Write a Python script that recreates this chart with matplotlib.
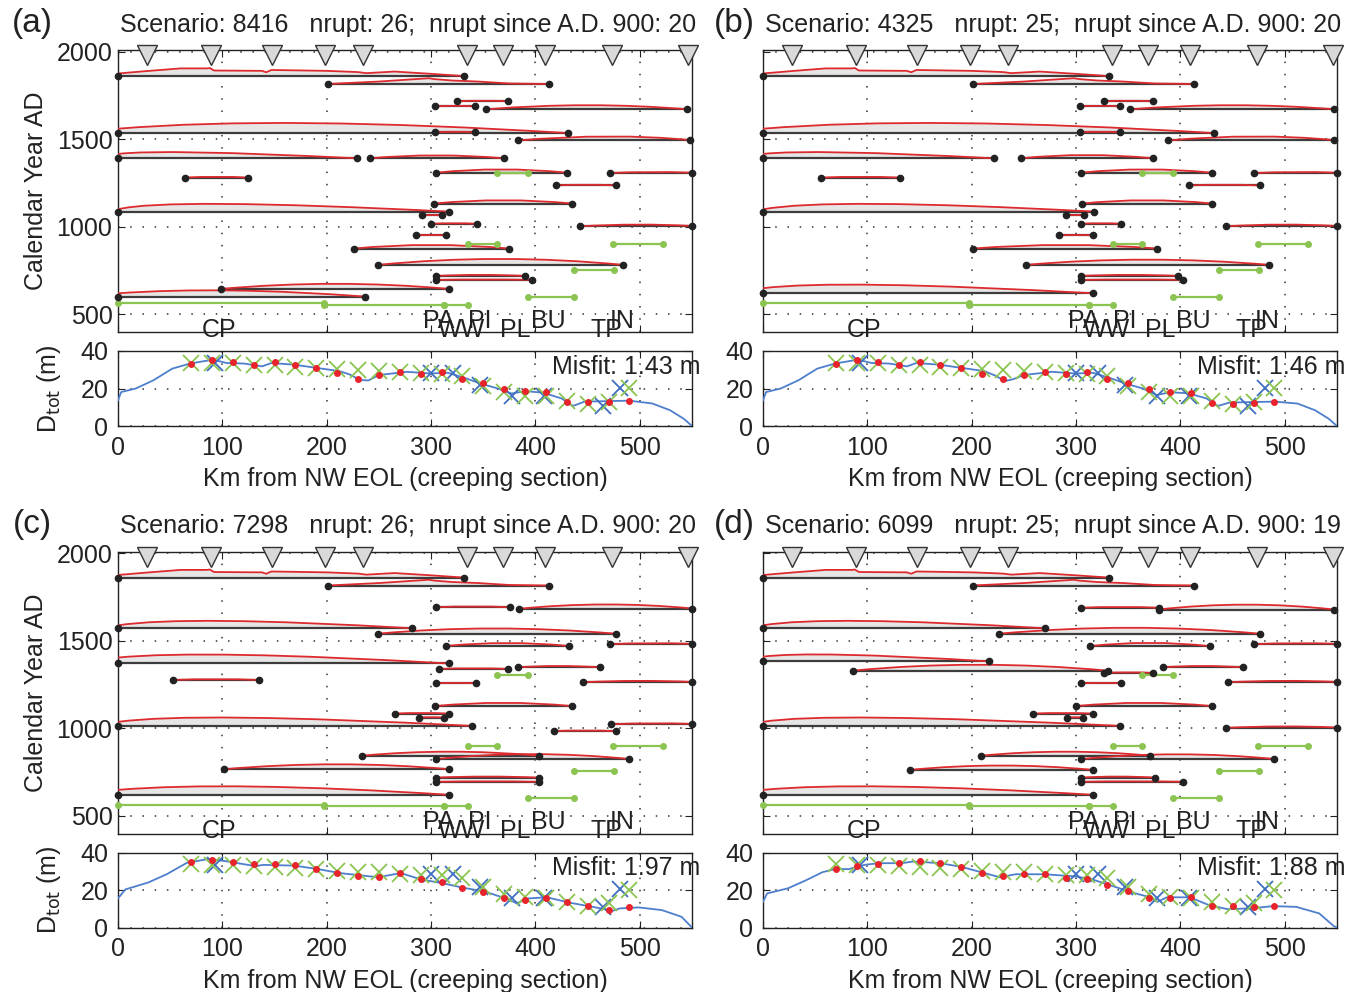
import matplotlib
matplotlib.use('Agg')
import matplotlib.pyplot as plt
from matplotlib.path import Path
from matplotlib.patches import PathPatch

plt.rcParams['font.family'] = ['Liberation Sans', 'DejaVu Sans']
plt.rcParams['font.size'] = 18
plt.rcParams['text.color'] = '#222222'
plt.rcParams['axes.labelcolor'] = '#222222'
plt.rcParams['xtick.color'] = '#222222'
plt.rcParams['ytick.color'] = '#222222'

# ---------------- data ----------------
titles = ['Scenario: 8416   nrupt: 26;  nrupt since A.D. 900: 20',
          'Scenario: 4325   nrupt: 25;  nrupt since A.D. 900: 20',
          'Scenario: 7298   nrupt: 26;  nrupt since A.D. 900: 20',
          'Scenario: 6099   nrupt: 25;  nrupt since A.D. 900: 19']
misfits = [1.43, 1.46, 1.97, 1.88]

# paleoseismic sites (triangles) and site labels
tri_km = [28, 89, 148, 198, 235, 334, 369, 409, 473, 546]
site_names = ['CP', 'PA', 'WW', 'PI', 'PL', 'BU', 'TP', 'IN']
site_km = [97, 307, 329, 347, 381, 412, 468, 483]
site_row = [0, 1, 0, 1, 0, 1, 0, 1]

# historic ruptures shared by all scenarios: (km, red offset in years)
hist1_year = 1860
hist1_km = [0, 30, 60, 85, 88, 92, 138, 142, 147, 200, 230, 238, 265, 300, 332]
hist1_off = [15, 30, 44, 44, 46, 32, 30, 22, 35, 30, 23, 17, 26, 13, 0]
hist2_year = 1815
hist2_km = [201, 250, 298, 303, 320, 345, 375, 413]
hist2_off = [0, 14, 33, 28, 20, 14, 3, 0]

# green constraint segments (year, km start, km end)
green_year = [1307, 900, 900, 754, 602, 563, 556, 556]
green_x1 = [363, 335, 474, 437, 393, 0, 197, 312]
green_x2 = [393, 363, 522, 475, 437, 197, 312, 335]

# ruptures: (year, km start, km end, red offset left, km of peak, peak offset, red offset right)
rup_a = [(1716, 325, 374, 0, 350, 4, 0), (1687, 304, 342, 0, 323, 4, 0),
         (1671, 353, 545, 0, 450, 23, 0), (1535, 0, 431, 25, 186, 57, 0),
         (1539, 304, 342, 0, 323, 4, 0), (1493, 383, 548, 0, 470, 23, 2),
         (1391, 0, 229, 25, 79, 34, 0), (1391, 241, 370, 0, 305, 17, 0),
         (1281, 64, 125, 0, 95, 5, 0), (1309, 305, 430, 0, 367, 19, 0),
         (1307, 471, 550, 0, 510, 6, 2), (1236, 420, 477, 0, 448, 5, 0),
         (1133, 303, 435, 0, 369, 19, 0), (1087, 0, 317, 13, 102, 44, 0),
         (1065, 291, 310, 0, 300, 3, 0), (1017, 300, 344, 0, 322, 4, 0),
         (1003, 443, 550, 0, 497, 10, 2), (951, 286, 314, 0, 300, 3, 0),
         (876, 226, 375, 0, 300, 21, 0), (783, 249, 484, 0, 366, 34, 0),
         (720, 305, 390, 0, 347, 6, 0), (697, 305, 397, 0, 351, 3, 0),
         (646, 99, 317, 0, 208, 29, 0), (602, 0, 237, 19, 110, 35, 0)]
rup_b = [(1716, 327, 374, 0, 350, 4, 0), (1687, 304, 342, 0, 323, 4, 0),
         (1671, 352, 547, 0, 450, 23, 0), (1535, 0, 432, 25, 186, 57, 0),
         (1539, 304, 342, 0, 323, 4, 0), (1493, 388, 547, 0, 470, 23, 2),
         (1391, 0, 221, 25, 79, 34, 0), (1391, 247, 374, 0, 310, 19, 0),
         (1281, 56, 131, 0, 93, 5, 0), (1309, 305, 430, 0, 367, 19, 0),
         (1307, 470, 550, 0, 510, 6, 2), (1236, 408, 476, 0, 442, 5, 0),
         (1133, 306, 430, 0, 368, 19, 0), (1087, 0, 317, 13, 110, 44, 0),
         (1065, 290, 308, 0, 299, 3, 0), (1017, 305, 343, 0, 324, 4, 0),
         (1003, 444, 550, 0, 497, 10, 2), (951, 284, 316, 0, 300, 3, 0),
         (876, 201, 378, 0, 290, 21, 0), (783, 252, 485, 0, 368, 30, 0),
         (720, 305, 398, 0, 351, 6, 0), (697, 305, 402, 0, 353, 3, 0),
         (621, 0, 316, 29, 115, 48, 0)]
rup_c = [(1691, 305, 376, 0, 340, 5, 0), (1682, 384, 550, 0, 467, 25, 2),
         (1571, 0, 282, 17, 103, 42, 0), (1540, 249, 477, 0, 360, 30, 0),
         (1470, 314, 432, 0, 373, 17, 0), (1480, 471, 550, 0, 510, 6, 2),
         (1370, 0, 317, 34, 121, 49, 0), (1339, 308, 374, 0, 341, 4, 0),
         (1348, 383, 462, 0, 422, 8, 0), (1276, 53, 135, 0, 94, 5, 0),
         (1257, 305, 343, 0, 324, 3, 0), (1263, 446, 550, 0, 498, 8, 2),
         (1127, 304, 435, 0, 369, 19, 0), (1084, 265, 317, 0, 291, 4, 0),
         (1061, 288, 312, 0, 300, 3, 0), (1014, 0, 339, 23, 121, 47, 0),
         (984, 418, 477, 0, 447, 4, 0), (1023, 472, 550, 0, 511, 6, 2),
         (844, 234, 403, 0, 318, 23, 0), (825, 305, 490, 0, 397, 28, 0),
         (767, 102, 317, 0, 210, 28, 0), (719, 305, 403, 0, 354, 6, 0),
         (695, 305, 403, 0, 354, 3, 0), (621, 0, 317, 28, 132, 47, 0)]
rup_d = [(1688, 305, 379, 0, 342, 5, 0), (1678, 379, 547, 0, 463, 28, 0),
         (1571, 0, 270, 17, 97, 42, 0), (1540, 226, 476, 0, 352, 34, 0),
         (1469, 313, 428, 0, 370, 19, 0), (1480, 470, 550, 0, 510, 6, 2),
         (1382, 0, 217, 27, 78, 38, 0), (1329, 86, 331, 0, 206, 34, 0),
         (1316, 327, 374, 0, 350, 4, 0), (1348, 383, 460, 0, 421, 8, 0),
         (1257, 305, 343, 0, 324, 3, 0), (1263, 446, 550, 0, 498, 8, 2),
         (1127, 300, 430, 0, 365, 19, 0), (1084, 259, 316, 0, 288, 4, 0),
         (1061, 291, 307, 0, 299, 3, 0), (1014, 0, 342, 23, 115, 47, 0),
         (1003, 444, 550, 0, 497, 8, 2), (844, 209, 371, 0, 290, 23, 0),
         (825, 305, 490, 0, 397, 27, 0), (763, 141, 316, 0, 228, 25, 0),
         (719, 305, 376, 0, 340, 6, 0), (695, 305, 402, 0, 353, 3, 0),
         (621, 0, 316, 28, 125, 47, 0)]

# observed total slip (green x) and second set (blue x)
obs_km = [70, 90, 110, 130, 150, 170, 190, 210, 230, 250, 270,
          290, 310, 330, 350, 370, 390, 410, 430, 450, 470, 490]
obs_d = [33.8, 33.6, 33.6, 32.7, 32.5, 31.7, 31.0, 30.3, 29.7, 29.5, 28.8,
         28.2, 28.0, 26.5, 21.6, 17.9, 16.2, 15.9, 13.5, 11.7, 13.0, 20.2]
obs2_km = [93, 300, 321, 347, 378, 408, 465, 481]
obs2_d = [33.6, 28.3, 28.5, 21.8, 16.0, 16.0, 10.8, 20.4]

# modelled D_tot along strike (blue line) per scenario
dtot_km_a = [0, 3, 17, 34, 52, 69, 91, 104, 121, 138, 147, 169, 190, 212, 222, 232,
             240, 250, 277, 299, 316, 334, 347, 364, 377, 390, 407, 425, 436, 447,
             472, 490, 512, 529, 542, 550]
dtot_a = [13.7, 18.1, 20, 24.4, 30.6, 33.3, 35.4, 33.6, 33.3, 31.8, 33.6, 32.7, 31, 29.3,
          27.5, 24.5, 24.3, 27.2, 28.9, 28, 28.4, 25.3, 22.7, 20, 17.3, 18.6, 17.8, 14.7,
          10.7, 13, 13.3, 13.5, 12, 8.4, 3.9, 0]
dtot_km_b = [0, 3, 17, 34, 52, 69, 91, 104, 121, 138, 147, 169, 190, 212, 222, 232,
             240, 250, 277, 299, 316, 334, 347, 364, 377, 390, 407, 425, 436, 447,
             472, 490, 512, 529, 542, 550]
dtot_b = [13.7, 18.1, 20, 24.4, 30.6, 33.3, 35.4, 33.6, 33.3, 31.8, 33.6, 32.7, 31, 29.3,
          27.0, 24.0, 25.0, 27.2, 28.9, 28, 28.4, 25.3, 22.7, 20, 16.5, 18.0, 17.5, 14.7,
          10.7, 12.5, 12.8, 13.0, 12, 8.4, 3.9, 0]
dtot_km_c = [0, 7, 29, 47, 66, 86, 103, 132, 139, 169, 191, 213, 249, 271, 290, 311,
             330, 352, 374, 382, 393, 411, 433, 455, 474, 481, 499, 521, 540, 550]
dtot_c = [15.5, 20.3, 24, 28.5, 34.5, 36.5, 35.4, 32.7, 33.4, 33, 31.2, 29, 26.8, 29,
          25.7, 23.6, 21.3, 19.1, 15, 12.9, 15.5, 16.1, 13.2, 11, 8.9, 10.2, 10.7, 9.3, 5.7, 0]
dtot_km_d = [0, 4, 24, 42, 57, 70, 82, 97, 111, 133, 144, 170, 191, 213, 227, 242,
             270, 300, 315, 332, 351, 369, 378, 387, 409, 427, 445, 467, 489, 511,
             533, 547, 550]
dtot_d = [13.7, 18.2, 20.9, 25.4, 29.5, 31.3, 31.1, 33.4, 34.3, 34.3, 35.2, 34.3, 32.2,
          28.9, 26.8, 28.4, 28.4, 27.2, 25.7, 22.7, 19.1, 16.4, 13.7, 16.1, 16.1, 12,
          9.8, 10.2, 11.4, 11, 7.5, 0.7, 0]

# modelled D_tot at the sites (red dots)
model_a = [33.3, 35.4, 33.9, 32.4, 33.9, 32.7, 31.0, 28.5, 25.3, 27.4, 28.7,
           27.9, 28.7, 24.9, 23.2, 20.0, 18.6, 17.9, 12.9, 12.6, 12.9, 13.5]
model_b = [33.3, 35.0, 33.9, 32.4, 33.9, 32.7, 31.0, 28.0, 25.0, 27.4, 28.7,
           27.9, 28.7, 24.9, 23.0, 19.5, 18.0, 17.5, 12.5, 12.0, 12.5, 13.0]
model_c = [35.0, 36.2, 35.0, 33.7, 33.9, 33.2, 31.0, 28.9, 27.6, 27.1, 28.9,
           25.7, 24.1, 21.3, 19.1, 15.5, 14.6, 16.0, 13.4, 11.6, 9.6, 10.7]
model_d = [31.2, 32.6, 33.9, 34.4, 35.7, 34.4, 32.2, 28.9, 27.5, 28.6, 28.4,
           26.6, 25.9, 22.7, 19.5, 15.5, 15.5, 16.1, 11.6, 11.4, 11.1, 11.6]

# ---------------- style ----------------
RED = '#dd2a2f'
DARK = '#3c3c3c'
FILL = '#e6e6e6'
GREEN = '#8cc451'
BLUE = '#4d7fcc'
BLUEX = '#3f6fc0'
GRID = dict(color='#333333', linestyle=(0, (1, 7)), linewidth=1.1)

W, H = 1345, 992


def rect(left, top, right, bottom):
    return [left / W, 1 - bottom / H, (right - left) / W, (bottom - top) / H]


def draw_rupture(ax, year, x1, x2, hl, xp, hp, hr):
    p0 = (x1, year + hl)
    p2 = (x2, year + hr)
    ctrl = (2 * xp - 0.5 * (x1 + x2), 2 * (year + hp) - 0.5 * (p0[1] + p2[1]))
    fill_path = Path([p0, ctrl, p2, (x2, year), (x1, year), p0],
                     [Path.MOVETO, Path.CURVE3, Path.CURVE3,
                      Path.LINETO, Path.LINETO, Path.CLOSEPOLY])
    ax.add_patch(PathPatch(fill_path, fc=FILL, ec='none', zorder=2))
    ax.plot([x1, x2], [year, year], color=DARK, lw=1.6, zorder=3)
    curve = Path([p0, ctrl, p2], [Path.MOVETO, Path.CURVE3, Path.CURVE3])
    ax.add_patch(PathPatch(curve, fc='none', ec=RED, lw=1.3, zorder=4))
    ax.plot([x1, x2], [year, year], 'o', ms=4.5, color='#222222',
            zorder=6, clip_on=False)


def draw_hist(ax, year, km, off):
    top = [year + o for o in off]
    ax.fill_between(km, year, top, color=FILL, lw=0, zorder=2)
    ax.plot([km[0], km[-1]], [year, year], color=DARK, lw=1.6, zorder=3)
    ax.plot(km, top, color=RED, lw=1.3, zorder=4)
    ax.plot([km[0], km[-1]], [year, year], 'o', ms=4.5, color='#222222',
            zorder=6, clip_on=False)


def style_axes(ax):
    ax.set_xlim(0, 550)
    ax.set_xticks([0, 100, 200, 300, 400, 500])
    ax.tick_params(direction='in', length=5, width=0.8, top=True, right=True,
                   labelsize=18)
    ax.grid(True, **GRID)
    ax.set_axisbelow(True)
    for s in ax.spines.values():
        s.set_linewidth(1.0)
        s.set_color('#222222')


fig = plt.figure(figsize=(W / 100, H / 100), dpi=100)

panel_labels = ['(a)', '(b)', '(c)', '(d)']
ruptures = [rup_a, rup_b, rup_c, rup_d]
dtot_kms = [dtot_km_a, dtot_km_b, dtot_km_c, dtot_km_d]
dtots = [dtot_a, dtot_b, dtot_c, dtot_d]
models = [model_a, model_b, model_c, model_d]
lefts = [118, 763, 118, 763]
tops = [50, 50, 551.5, 551.5]
label_x = [32, 734, 32, 734]

for i in range(4):
    L = lefts[i]
    T = tops[i]
    R = L + 574
    ax = fig.add_axes(rect(L, T, R, T + 282))
    style_axes(ax)
    ax.set_ylim(400, 2009)
    ax.set_yticks([500, 1000, 1500, 2000])
    ax.tick_params(labelbottom=False, pad=4)
    if i % 2 == 0:
        ax.set_ylabel('Calendar Year AD')
        ax.yaxis.set_label_coords(-0.122, 0.5)
    else:
        ax.tick_params(labelleft=False)

    draw_hist(ax, hist1_year, hist1_km, hist1_off)
    draw_hist(ax, hist2_year, hist2_km, hist2_off)
    for r in ruptures[i]:
        draw_rupture(ax, *r)
    for y, g1, g2 in zip(green_year, green_x1, green_x2):
        ax.plot([g1, g2], [y, y], '-o', color=GREEN, lw=1.6, ms=4,
                zorder=5, clip_on=False)

    ax.plot(tri_km, [1978] * len(tri_km), 'v', ms=14, mfc='#d9d9d9',
            mec='#333333', mew=1.0, clip_on=False, zorder=7)
    for name, km, row in zip(site_names, site_km, site_row):
        ax.text(km, 423 if row else 372, name, ha='center', va='baseline',
                fontsize=18, zorder=8)

    # lower axes: total slip
    bx = fig.add_axes(rect(L, T + 301, R, T + 376))
    style_axes(bx)
    bx.set_ylim(0, 40)
    bx.set_yticks([0, 20, 40])
    bx.tick_params(pad=7)
    bx.plot(dtot_kms[i], dtots[i], color=BLUE, lw=1.3, zorder=3)
    bx.plot(obs2_km, obs2_d, 'x', color=BLUEX, ms=11, mew=1.3, zorder=4)
    bx.plot(obs_km, obs_d, 'x', color=GREEN, ms=11, mew=1.3, zorder=5)
    bx.plot(obs_km, models[i], 'o', color='#e8232b', ms=4, zorder=6)
    bx.text(558, 27.8, 'Misfit: %.2f m' % misfits[i], ha='right',
            va='baseline', fontsize=18, zorder=8)
    bx.set_xlabel('Km from NW EOL (creeping section)')
    bx.xaxis.set_label_coords(0.5, -0.55)
    if i % 2 == 0:
        bx.set_ylabel(r'D$_{\rm tot}$ (m)')
        bx.yaxis.set_label_coords(-0.096, 0.5)

    fig.text(label_x[i] / W, 1 - (T - 18) / H, panel_labels[i], fontsize=24,
             ha='center', va='baseline')
    fig.text((L + 290) / W, 1 - (T - 18) / H, titles[i], fontsize=18,
             ha='center', va='baseline')

fig.savefig('out.png', dpi=100)
